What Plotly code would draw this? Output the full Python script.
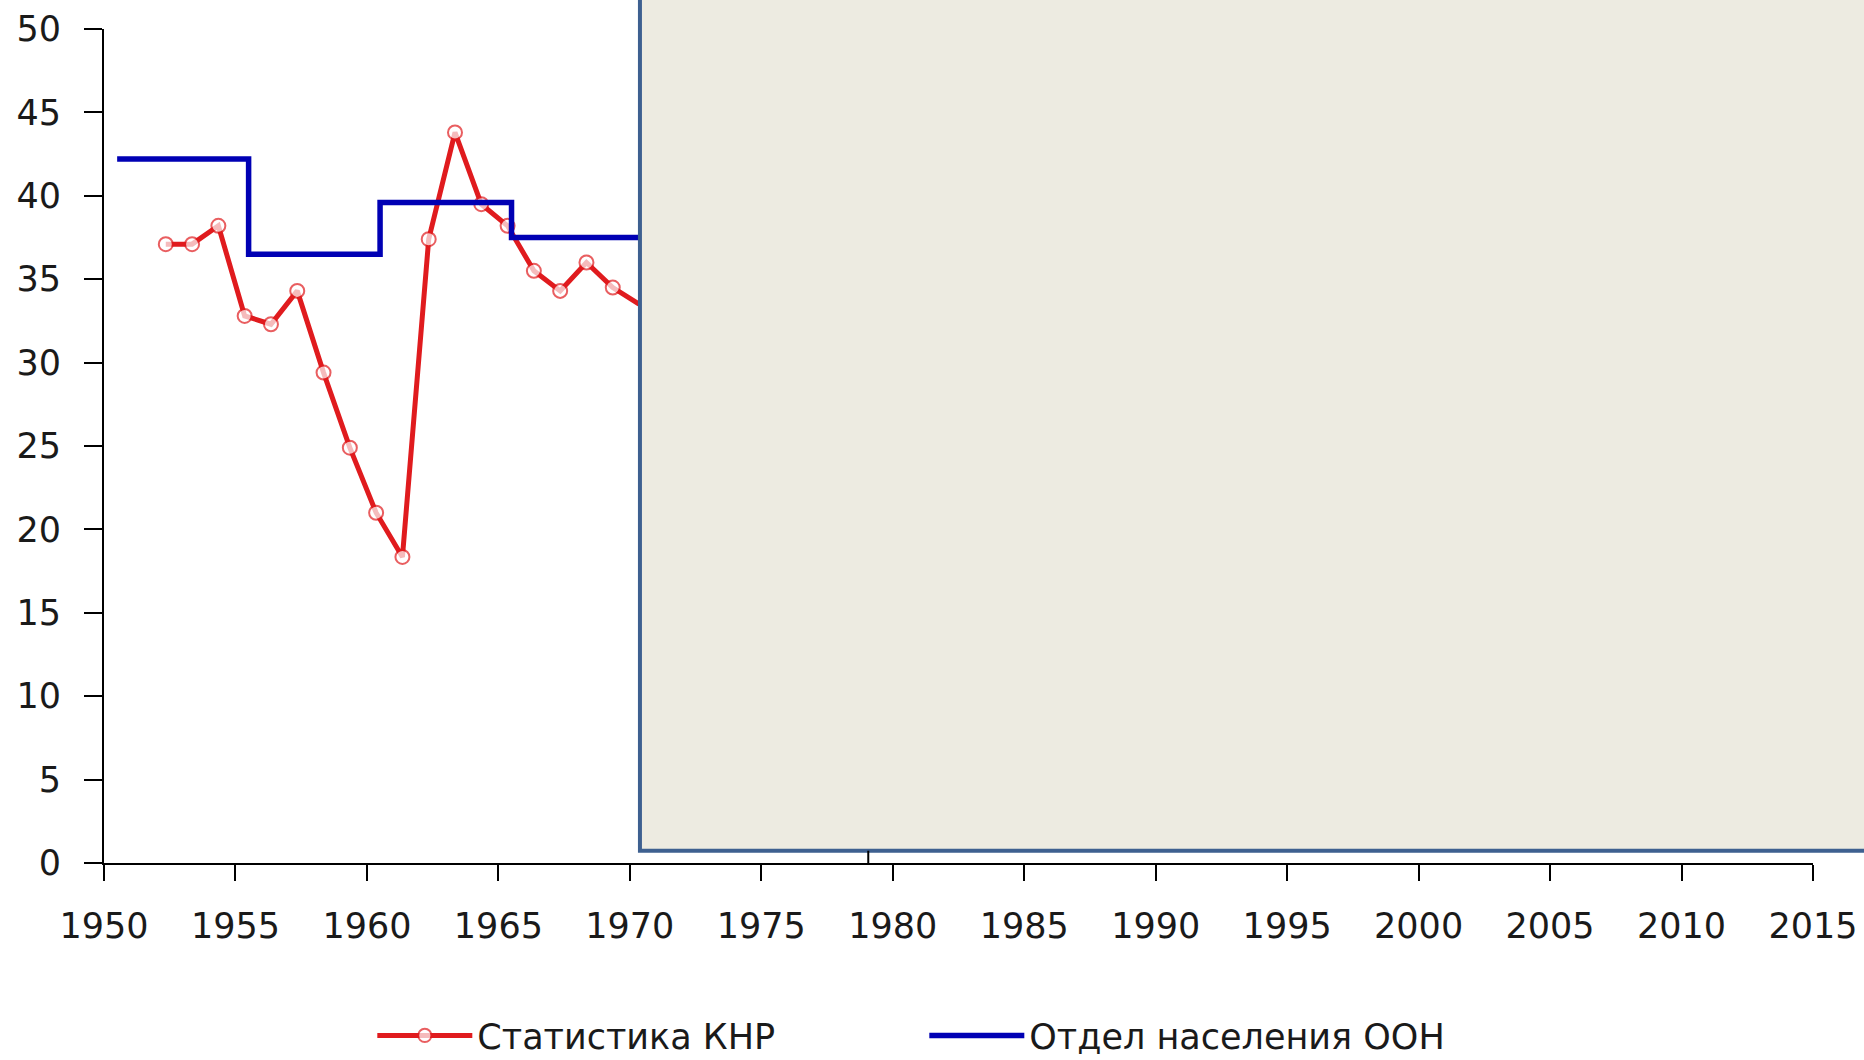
import plotly.graph_objects as go

# ---- data ----
red_years = [1952, 1953, 1954, 1955, 1956, 1957, 1958, 1959, 1960, 1961,
             1962, 1963, 1964, 1965, 1966, 1967, 1968, 1969, 1970]
red_values = [37.1, 37.1, 38.2, 32.8, 32.3, 34.3, 29.4, 24.9, 21.0, 18.35,
              37.4, 43.8, 39.5, 38.2, 35.5, 34.3, 36.0, 34.5, 33.5]

un_period_starts = [1950, 1955, 1960, 1965]
un_values = [42.2, 36.5, 39.6, 37.5]
un_period_end = 1970

x_tick_years = list(range(1950, 2016, 5))
y_tick_values = list(range(0, 51, 5))

red_name = "Статистика КНР"
un_name = "Отдел населения ООН"

# ---- positioning helpers (styling) ----
RED_SHIFT = 0.35   # annual values drawn near mid-year
UN_SHIFT = 0.5     # 5-year periods drawn from mid-year

red_x = [y + RED_SHIFT for y in red_years]
un_x = [y + UN_SHIFT for y in un_period_starts] + [un_period_end + UN_SHIFT]
un_y = un_values + [un_values[-1]]

# last red marker lies under the overlay border; hide its circle
red_marker_sizes = [14] * (len(red_x) - 1) + [0]

FONT = "DejaVu Sans"
RED = "#E01B1E"
BLUE = "#0000B4"
TXT = "#1a1a1a"

fig = go.Figure()
fig.add_trace(go.Scatter(
    x=red_x, y=red_values, name=red_name, mode="lines+markers",
    line=dict(color=RED, width=5),
    marker=dict(symbol="circle", size=red_marker_sizes, color="white",
                line=dict(color=RED, width=2)),
))
fig.add_trace(go.Scatter(
    x=un_x, y=un_y, name=un_name, mode="lines",
    line=dict(color=BLUE, width=5.5, shape="hv"),
))

fig.update_layout(
    width=1864, height=1060,
    margin=dict(l=104, r=51, t=29, b=197, autoexpand=False),
    paper_bgcolor="white", plot_bgcolor="white",
    font=dict(family=FONT, size=35, color=TXT),
    showlegend=True,
    legend=dict(orientation="h", x=0.157, xanchor="left",
                y=-0.2071, yanchor="middle",
                font=dict(family=FONT, size=35, color=TXT),
                itemwidth=95, entrywidth=442, tracegroupgap=0,
                bgcolor="rgba(0,0,0,0)"),
    xaxis=dict(range=[1950, 2015], tickvals=x_tick_years,
               ticktext=[str(v) for v in x_tick_years],
               automargin=False,
               showgrid=False, zeroline=False, showline=True,
               linecolor="black", linewidth=2,
               ticks="outside", ticklen=16, tickwidth=2, tickcolor="black",
               ticklabelstandoff=15,
               tickfont=dict(family=FONT, size=35, color=TXT)),
    yaxis=dict(range=[0, 50], tickvals=y_tick_values,
               automargin=False,
               showgrid=False, zeroline=False, showline=True,
               linecolor="black", linewidth=2,
               ticks="outside", ticklen=18, tickwidth=2, tickcolor="black",
               ticklabelstandoff=16,
               tickfont=dict(family=FONT, size=35, color=TXT)),
    shapes=[
        dict(type="rect", xref="paper", yref="paper",
             x0=0.3136, x1=1.2, y0=0.0147, y1=1.2,
             fillcolor="#EDEBE1", line=dict(color="#3E6090", width=4),
             layer="above"),
        dict(type="line", xref="paper", yref="paper",
             x0=0.4472, x1=0.4472, y0=0.0, y1=0.0147,
             line=dict(color="black", width=2), layer="above"),
    ],
)

fig.write_html(
    "out.html",
    config={"displayModeBar": False},
    post_script="document.body.style.margin='0';document.body.style.overflow='hidden';",
)
